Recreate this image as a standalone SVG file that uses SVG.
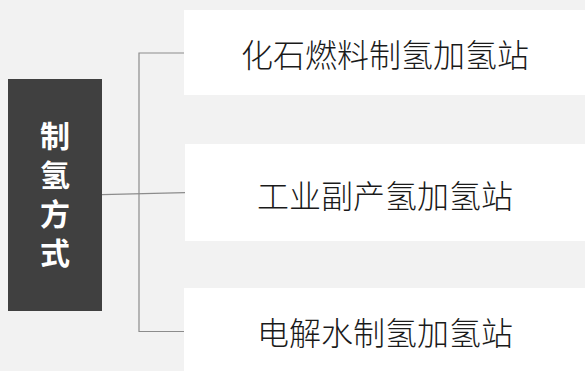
<svg xmlns="http://www.w3.org/2000/svg" width="585" height="371" viewBox="0 0 585 371">
<style>
.box{fill:#ffffff}
.lbl{font-family:"Noto Sans CJK SC","Noto Sans",sans-serif;font-size:32px;font-weight:300;fill:#1a1a1a;text-anchor:middle;dominant-baseline:central}
.head{font-family:"Noto Sans CJK SC","Noto Sans",sans-serif;font-size:30px;font-weight:700;fill:#ffffff;writing-mode:vertical-rl;letter-spacing:9px}
.conn{fill:none;stroke:#8c8c8c;stroke-width:1.2}
</style>
<rect width="585" height="371" fill="#f2f2f2"/>
<g id="connectors">
<path class="conn" d="M187 53 H139 V331.5 H185"/>
<path class="conn" d="M102 194.7 L185 192.7"/>
</g>
<g id="root">
<rect x="8" y="79" width="94" height="232" fill="#404040"/>
<text class="head" x="55" y="121">制氢方式</text>
</g>
<g id="n1">
<rect class="box" x="184" y="10" width="401" height="85"/>
<text class="lbl" x="385" y="52.5">化石燃料制氢加氢站</text>
</g>
<g id="n2">
<rect class="box" x="185" y="144" width="400" height="97"/>
<text class="lbl" x="385" y="194">工业副产氢加氢站</text>
</g>
<g id="n3">
<rect class="box" x="184" y="288" width="401" height="83"/>
<text class="lbl" x="385" y="331">电解水制氢加氢站</text>
</g>
</svg>
